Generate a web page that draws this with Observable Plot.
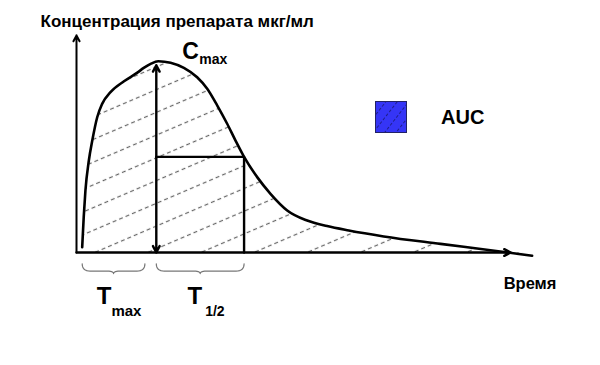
<!DOCTYPE html>
<html>
<head>
<meta charset="utf-8">
<script src="https://cdn.jsdelivr.net/npm/d3@7"></script>
<script src="https://cdn.jsdelivr.net/npm/@observablehq/plot@0.6"></script>
<style>
  body { margin: 0; background: #fff; }
  #chart { position: relative; width: 600px; height: 365px; font-family: "Liberation Sans", Arial, sans-serif; }
  #legend { position: absolute; left: 375px; top: 101px; display: flex; align-items: center; }
  #legend span { margin-left: 34px; font-size: 20px; font-weight: bold; color: #000; }
</style>
</head>
<body>
<div id="chart">
  <div id="legend">
    <svg width="32" height="32">
      <defs>
        <pattern id="legend-hatch" patternUnits="userSpaceOnUse" width="5" height="9"
                 patternTransform="rotate(-52) translate(0,-4.5)">
          <rect width="5" height="9" fill="#3535f6"></rect>
          <line x1="0" y1="4.5" x2="5" y2="4.5" stroke="#1c1c80" stroke-width="0.9" stroke-dasharray="3 2"></line>
        </pattern>
      </defs>
      <rect x="0.5" y="0.5" width="31" height="31" fill="url(#legend-hatch)" stroke="#222266" stroke-width="1"></rect>
    </svg>
    <span>AUC</span>
  </div>
</div>
<script>
// Plasma concentration after a single oral dose (hours, µg/ml)
const timeH = [0.30, 0.38, 0.47, 0.65, 0.83, 1.09, 1.35, 1.79, 2.50, 3.20, 3.54, 3.90, 4.30, 4.95, 5.65, 6.35, 6.88, 7.41, 7.93, 8.37, 8.82, 9.51, 10.21, 11.09, 12.14, 13.19, 14.33, 16.17, 19.16, 21.79, 23.98];
const concentration = [0.28, 1.85, 3.24, 4.81, 5.85, 7.07, 7.77, 8.38, 8.95, 9.40, 9.65, 9.86, 10.0, 9.92, 9.65, 9.16, 8.56, 7.68, 6.73, 5.85, 5.0, 3.94, 3.07, 2.20, 1.67, 1.38, 1.15, 0.84, 0.45, 0.12, -0.17];

// Pharmacokinetic parameters
const cMax = 10;      // peak concentration
const tMax = 4.2;     // time to peak
const tHalf = 4.62;   // time for the concentration to fall to cMax / 2

// Axis extents and labels
const xAxisEnd = 22.85;
const yAxisEnd = 11.35;
const yTitle = "Концентрация препарата мкг/мл";
const xTitle = "Время";

const curve = timeH.map((t, i) => ({t, c: concentration[i]}));
const half = cMax / 2;

// Curly brace under an interval [a, b], drawn in data coordinates
function brace(a, b, top = -0.59, mid = -0.97, tip = -1.1, r = 0.42) {
  const m = (a + b) / 2;
  const quad = (p0, p1, p2, n = 8) => d3.range(n + 1).map(k => {
    const s = k / n, u = 1 - s;
    return {t: u * u * p0[0] + 2 * u * s * p1[0] + s * s * p2[0],
            c: u * u * p0[1] + 2 * u * s * p1[1] + s * s * p2[1]};
  });
  return [
    ...quad([a, top], [a, mid], [a + r, mid]),
    ...quad([m - r, mid], [m, mid], [m, tip]),
    ...quad([m, tip], [m, mid], [m + r, mid]),
    ...quad([b - r, mid], [b, mid], [b, top])
  ];
}

const labelY = -2.68;
const bold = {fontWeight: "bold", fill: "black", lineAnchor: "bottom"};
const arrowStyle = {x1: "x1", y1: "y1", x2: "x2", y2: "y2", stroke: "black", headAngle: 55};

const plot = Plot.plot({
  width: 600,
  height: 365,
  margin: 0,
  x: {domain: [0, 24], range: [76, 532], axis: null},
  y: {domain: [0, 10], range: [252, 60.7], axis: null},
  style: {fontFamily: "Liberation Sans, Arial, sans-serif", background: "white", overflow: "visible"},
  marks: [
    // hatched area under the curve
    Plot.areaY(curve, {x: "t", y: "c", fill: "url(#auc-hatch)", curve: "monotone-x"}),
    // axes
    Plot.arrow([{x1: 0, y1: 0, x2: 0, y2: yAxisEnd}], {...arrowStyle, strokeWidth: 2, headLength: 5}),
    Plot.arrow([{x1: 0, y1: 0, x2: xAxisEnd, y2: 0}], {...arrowStyle, strokeWidth: 2.4, headLength: 4.5}),
    // concentration curve
    Plot.line(curve, {x: "t", y: "c", stroke: "black", strokeWidth: 2.6, curve: "monotone-x"}),
    // Cmax double arrow
    Plot.arrow([{x1: tMax, y1: half, x2: tMax, y2: cMax}], {...arrowStyle, strokeWidth: 2.4, headLength: 4.5, insetEnd: 4}),
    Plot.arrow([{x1: tMax, y1: half, x2: tMax, y2: 0}], {...arrowStyle, strokeWidth: 2.4, headLength: 4.5}),
    // half-life box
    Plot.line([{t: tMax, c: half}, {t: tMax + tHalf, c: half}, {t: tMax + tHalf, c: 0}], {x: "t", y: "c", stroke: "black", strokeWidth: 2.4}),
    // braces
    Plot.line(brace(0.3, tMax - 0.6), {x: "t", y: "c", stroke: "#777", strokeWidth: 1.2}),
    Plot.line(brace(tMax, tMax + tHalf), {x: "t", y: "c", stroke: "#777", strokeWidth: 1.2}),
    // interval labels
    Plot.text(["T"], {x: tMax / 2, y: labelY, dx: -5, textAnchor: "end", fontSize: 24, ...bold}),
    Plot.text(["max"], {x: tMax / 2, y: labelY, dx: -5, dy: 12, textAnchor: "start", fontSize: 15, ...bold}),
    Plot.text(["T"], {x: tMax + tHalf / 2, y: labelY, dx: 2, textAnchor: "end", fontSize: 24, ...bold}),
    Plot.text(["1/2"], {x: tMax + tHalf / 2, y: labelY, dx: 5, dy: 12, textAnchor: "start", fontSize: 14, ...bold}),
    // Cmax label
    Plot.text(["C"], {x: tMax, y: cMax, dx: 26, dy: -2, textAnchor: "start", fontSize: 23, ...bold}),
    Plot.text(["max"], {x: tMax, y: cMax, dx: 43, dy: 3, textAnchor: "start", fontSize: 14, ...bold}),
    // axis titles
    Plot.text([yTitle], {frameAnchor: "top-left", dx: 40, dy: 26, textAnchor: "start", fontSize: 17, ...bold}),
    Plot.text([xTitle], {x: xAxisEnd, y: 0, dx: -7, dy: 36, textAnchor: "start", fontSize: 16.5, ...bold})
  ]
});

// Dashed diagonal hatching used as the AUC fill
const defs = d3.select(plot).insert("defs", ":first-child");
defs.append("pattern")
  .attr("id", "auc-hatch")
  .attr("patternUnits", "userSpaceOnUse")
  .attr("width", 7)
  .attr("height", 20.9)
  .attr("patternTransform", "translate(255,252) rotate(-23.2) translate(0,-10.45)")
  .call(p => p.append("line")
    .attr("x1", 0).attr("y1", 10.45).attr("x2", 7).attr("y2", 10.45)
    .attr("stroke", "#666").attr("stroke-width", 1.2).attr("stroke-dasharray", "4 3"));

document.getElementById("chart").prepend(plot);
</script>
</body>
</html>
